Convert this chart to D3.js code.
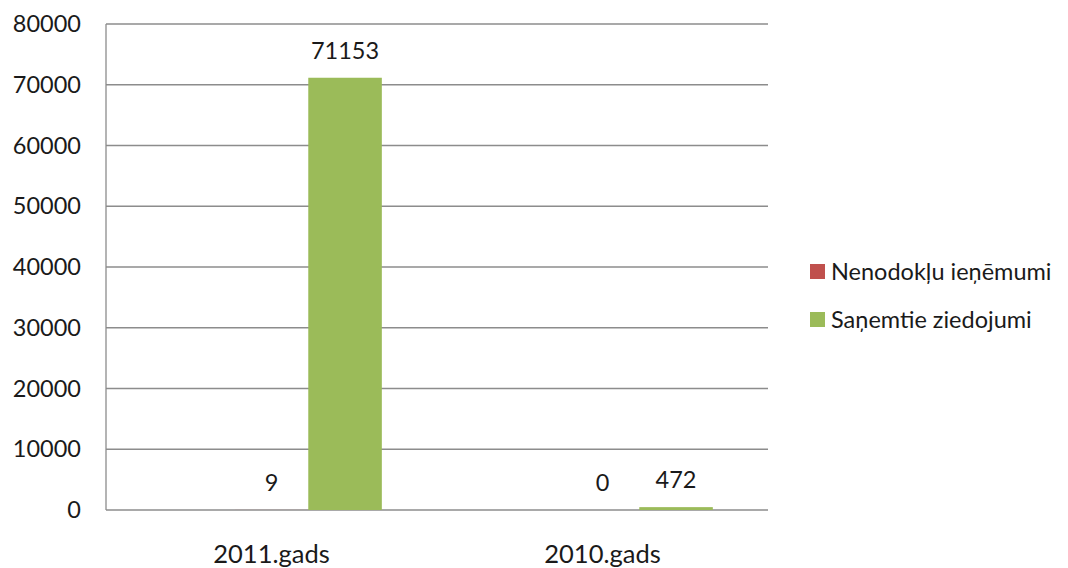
<!DOCTYPE html>
<html><head><meta charset="utf-8">
<script src="https://cdn.jsdelivr.net/npm/d3@7"></script>
<style>body{margin:0;background:#fff;} text{font-family:Lato,"Open Sans",sans-serif;fill:#1a1a1a;}</style>
</head><body><svg id="c" width="1068" height="568"></svg>
<script>
const categories = ["2011.gads", "2010.gads"];
const seriesNames = ["Nenodokļu ieņēmumi", "Saņemtie ziedojumi"];
const nenodoklu = [9, 0];
const ziedojumi = [71153, 472];
const yTicks = [0, 10000, 20000, 30000, 40000, 50000, 60000, 70000, 80000];
const colors = ["#C0504D", "#9BBB59"];

const svg = d3.select("#c");
const m = {l: 106, r: 768, t: 24, b: 510};
const y = d3.scaleLinear().domain([0, 80000]).range([m.b, m.t]);
const x0 = d3.scaleBand().domain(categories).range([m.l, m.r]);
// Excel layout: an empty leading slot, two series, gap width 150%
const x1 = d3.scaleBand().domain(["", ...seriesNames]).range([0, x0.bandwidth()]).paddingInner(0).paddingOuter(0.75);

// gridlines
svg.append("g").selectAll("line").data(yTicks).join("line")
  .attr("x1", m.l).attr("x2", m.r).attr("y1", d => y(d)).attr("y2", d => y(d))
  .attr("stroke", "#8c8c8c").attr("stroke-width", 1.3);
// y axis line
svg.append("line").attr("x1", m.l).attr("x2", m.l).attr("y1", m.t).attr("y2", m.b)
  .attr("stroke", "#8c8c8c").attr("stroke-width", 1.3);
// y tick labels
svg.append("g").selectAll("text").data(yTicks).join("text")
  .attr("x", 81).attr("y", d => y(d) + 8).attr("text-anchor", "end")
  .attr("font-size", 23.5).text(d => d);

const series = [nenodoklu, ziedojumi];
series.forEach((vals, si) => {
  const g = svg.append("g");
  g.selectAll("rect").data(vals).join("rect")
    .attr("x", (d, i) => x0(categories[i]) + x1(seriesNames[si]))
    .attr("width", x1.bandwidth())
    .attr("y", d => y(d)).attr("height", d => y(0) - y(d))
    .attr("fill", colors[si]);
  g.selectAll("text").data(vals).join("text")
    .attr("x", (d, i) => x0(categories[i]) + x1(seriesNames[si]) + x1.bandwidth() / 2)
    .attr("y", d => y(d) - 19).attr("text-anchor", "middle")
    .attr("font-size", 23.5).text(d => d);
});

// category labels
svg.append("g").selectAll("text").data(categories).join("text")
  .attr("x", d => x0(d) + x0.bandwidth() / 2).attr("y", 563)
  .attr("text-anchor", "middle").attr("font-size", 25.5).text(d => d);

// legend
const lg = svg.append("g").attr("transform", "translate(810,262)");
seriesNames.forEach((s, i) => {
  lg.append("rect").attr("x", 0).attr("y", i * 48 + 2).attr("width", 15).attr("height", 15).attr("fill", colors[i]);
  lg.append("text").attr("x", 21).attr("y", i * 48 + 18).attr("font-size", 23.5).text(s);
});
</script></body></html>
